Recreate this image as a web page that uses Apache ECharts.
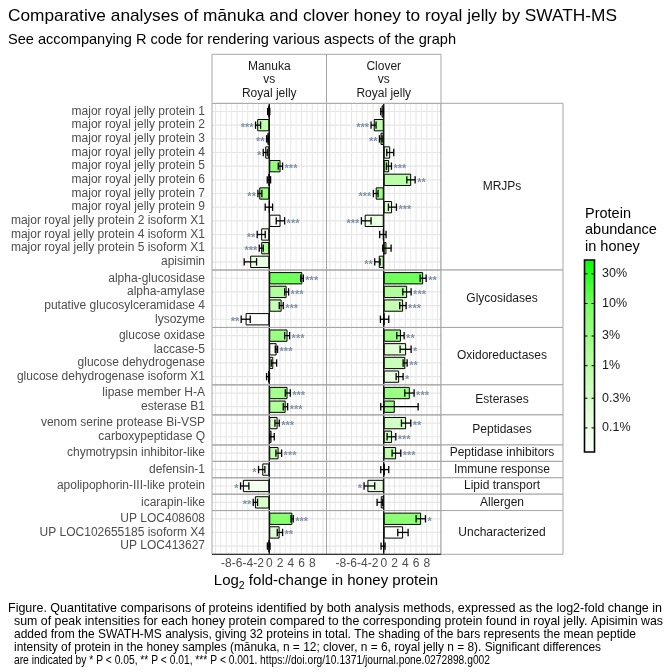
<!DOCTYPE html>
<html>
<head>
<meta charset="utf-8">
<script src="https://cdn.jsdelivr.net/npm/echarts@6/dist/echarts.min.js"></script>
<style>
html, body { margin: 0; padding: 0; background: #fff; }
#chart { width: 672px; height: 672px; }
</style>
</head>
<body>
<div id="chart"></div>
<script>
// ---- data ----
const proteins = [
    "major royal jelly protein 1", "major royal jelly protein 2", "major royal jelly protein 3",
    "major royal jelly protein 4", "major royal jelly protein 5", "major royal jelly protein 6",
    "major royal jelly protein 7", "major royal jelly protein 9",
    "major royal jelly protein 2 isoform X1", "major royal jelly protein 4 isoform X1",
    "major royal jelly protein 5 isoform X1", "apisimin",
    "alpha-glucosidase", "alpha-amylase", "putative glucosylceramidase 4", "lysozyme",
    "glucose oxidase", "laccase-5", "glucose dehydrogenase", "glucose dehydrogenase isoform X1",
    "lipase member H-A", "esterase B1",
    "venom serine protease Bi-VSP", "carboxypeptidase Q",
    "chymotrypsin inhibitor-like",
    "defensin-1",
    "apolipophorin-III-like protein",
    "icarapin-like",
    "UP LOC408608", "UP LOC102655185 isoform X4", "UP LOC413627",
];
const groupNames = ["MRJPs", "Glycosidases", "Oxidoreductases", "Esterases", "Peptidases",
    "Peptidase inhibitors", "Immune response", "Lipid transport", "Allergen", "Uncharacterized"];
const groupSizes = [12, 4, 4, 2, 2, 1, 1, 1, 1, 3];

const manukaFC = [-0.1, -2.24, -0.35, -0.75, 2.1, -0.1, -1.86, 0.05, 2.1, -1.5, -1.5, -3.55,
    6.15, 3.23, 2.3, -4.4, 3.4, 1.37, 0.75, -0.2, 3.4, 3.05, 1.55, 0.43, 1.74, -1.3, -4.9, -2.67,
    4.3, 1.93, -0.1];
const manukaLow = [-0.3, -2.55, -0.5, -1.12, 1.68, -0.37, -2.11, -0.75, 1.3, -2.24, -1.86, -4.66,
    5.84, 2.86, 1.86, -5.22, 2.86, 1.12, 0.37, -0.5, 2.98, 2.61, 1.06, 0.12, 1.24, -1.99, -5.34, -2.98,
    4.04, 1.49, -0.35];
const manukaHigh = [0.1, -1.61, -0.2, -0.37, 2.48, 0.25, -1.37, 0.62, 2.86, -0.75, -1.12, -2.36,
    6.34, 3.6, 2.61, -3.54, 3.79, 1.55, 1.37, 0.06, 3.91, 3.42, 1.86, 0.93, 2.3, -0.81, -3.79, -2.17,
    4.47, 2.48, 0.15];
const manukaStars = ["", "***", "**", "*", "***", "", "**", "", "***", "**", "***", "",
    "***", "***", "***", "**", "***", "***", "", "", "***", "***", "***", "", "***", "*", "*", "**",
    "***", "**", ""];
const manukaAbundance = [8, 0.8, 3, 0.07, 4, 1, 3, 0.3, 0.045, 0.06, 1.4, 0.12,
    10, 1.5, 0.56, 0.045, 2.9, 0.07, 0.5, 0.3, 2.2, 1.5, 0.27, 0.2, 0.7, 0.07, 0.07, 0.27,
    6, 0.2, 0.3];

const cloverFC = [-0.4, -1.86, -0.6, 1.2, 1.0, 5.1, -1.5, 1.55, -3.55, -0.15, 0.5, -0.93,
    7.33, 4.35, 3.6, 0.1, 3.2, 4.16, 4.0, 2.86, 4.85, 2.05, 4.16, 1.55, 2.3, 0.15, -3.04, -0.56,
    6.95, 3.6, -0.05];
const cloverLow = [-0.56, -2.36, -0.8, 0.56, 0.5, 4.29, -1.93, 0.87, -4.16, -0.75, -0.19, -1.68,
    6.77, 3.54, 2.98, -0.62, 2.42, 3.04, 3.6, 2.3, 3.91, -0.56, 3.29, 0.62, 1.55, -0.56, -3.66, -1.24,
    6.02, 2.61, -0.5];
const cloverHigh = [-0.06, -1.43, -0.3, 1.86, 1.43, 5.84, -1.06, 2.36, -2.36, 0.43, 1.37, -0.68,
    7.89, 5.09, 4.16, 0.93, 3.79, 5.09, 4.35, 3.6, 5.65, 6.4, 5.03, 2.24, 3.17, 0.93, -1.68, -0.25,
    7.76, 4.53, 0.25];
const cloverStars = ["", "***", "**", "", "***", "**", "***", "***", "***", "", "", "**",
    "**", "***", "***", "", "**", "*", "**", "*", "***", "", "**", "***", "***", "", "*", "",
    "*", "", ""];
const cloverAbundance = [10, 0.8, 5, 0.12, 3, 1, 3, 0.27, 0.12, 0.3, 1, 0.56,
    10, 1.5, 0.6, 0.3, 2.9, 0.2, 0.5, 0.12, 2.9, 2.9, 0.35, 0.5, 0.8, 0.3, 0.12, 0.3,
    5, 0.045, 0.3];

const comparisonNames = ["Manuka\nvs\nRoyal jelly", "Clover\nvs\nRoyal jelly"];
const xTickLabels = [-8, -6, -4, -2, 0, 2, 4, 6, 8];
const xGridTicks = [-10, -9, -8, -7, -6, -5, -4, -3, -2, -1, 0, 1, 2, 3, 4, 5, 6, 7, 8, 9, 10];
const legendTicks = [30, 10, 3, 1, 0.3, 0.1];
const legendTickLabels = ["30%", "10%", "3%", "1%", "0.3%", "0.1%"];
const abundanceRange = [0.041, 50];
const greenStops = ["#ffffff", "#dbffcd", "#b1ff9b", "#7dff64", "#00ff00"];

// ---- layout ----
const FONT = "'Liberation Sans', Arial, sans-serif";
const U = 13.667;               // height of one protein row
const PLOT_TOP = 103.3;
const PANEL_LEFT = [212, 326.5];
const PANEL_W = 114.5;
const STRIP_RIGHT = 563;
const X_MIN = -10.65, X_MAX = 10.65;
const STAR_COLOR = "#8090a6";
const LOG_MIN = Math.log10(abundanceRange[0]);
const LOG_MAX = Math.log10(abundanceRange[1]);

const comparisons = [
    {fc: manukaFC, low: manukaLow, high: manukaHigh, stars: manukaStars, abund: manukaAbundance},
    {fc: cloverFC, low: cloverLow, high: cloverHigh, stars: cloverStars, abund: cloverAbundance},
];

const measureCtx = document.createElement("canvas").getContext("2d");
function textWidth(text, font) {
    measureCtx.font = font;
    return measureCtx.measureText(text).width;
}

function gridLineRenderer(params, api) {
    const cs = params.coordSys;
    const y = api.coord([0, api.value(0)])[1];
    const children = [{
        type: "line",
        shape: {x1: cs.x, y1: y, x2: cs.x + cs.width, y2: y},
        style: {stroke: "#e6e6e6", lineWidth: 1.2},
    }];
    if (params.dataIndex === 0) {
        const y1 = cs.y - 0.1 * U, y2 = cs.y + cs.height + 0.1 * U;
        for (const t of xGridTicks) {
            const x = api.coord([t, 0])[0];
            children.push({
                type: "line",
                shape: {x1: x, y1: y1, x2: x, y2: y2},
                style: {stroke: t === 0 ? "#000" : "#e6e6e6", lineWidth: t === 0 ? 1.3 : (t % 2 === 0 ? 1.1 : 0.8)},
                z2: t === 0 ? 5 : 0,
            });
        }
    }
    return {type: "group", children: children};
}

function makeErrorRenderer(cmp, rowStart) {
    return function (params, api) {
        const r = rowStart + params.dataIndex;
        const cat = api.value(2);
        const y = api.coord([0, cat])[1];
        const xl = api.coord([api.value(0), cat])[0];
        const xh = api.coord([api.value(1), cat])[0];
        const cap = api.size([0, 1])[1] * 0.27;
        const st = {stroke: "#000", lineWidth: 1.3};
        const children = [
            {type: "line", shape: {x1: xl, y1: y, x2: xh, y2: y}, style: st},
            {type: "line", shape: {x1: xl, y1: y - cap, x2: xl, y2: y + cap}, style: st},
            {type: "line", shape: {x1: xh, y1: y - cap, x2: xh, y2: y + cap}, style: st},
        ];
        const stars = cmp.stars[r];
        if (stars) {
            const pos = cmp.fc[r] >= 0;
            children.push({
                type: "text",
                style: {
                    text: stars, x: pos ? xh + 2 : xl - 2, y: y + 3,
                    align: pos ? "left" : "right", verticalAlign: "middle",
                    fill: STAR_COLOR, font: "bold 11px " + FONT,
                },
            });
        }
        return {type: "group", children: children};
    };
}

const grids = [], xAxes = [], yAxes = [], series = [], graphics = [];
const barSeries = [];
let rowStart = 0, unitStart = 0;
const lastGroup = groupSizes.length - 1;

groupSizes.forEach((n, g) => {
    const names = proteins.slice(rowStart, rowStart + n);
    const y0 = PLOT_TOP + unitStart * U;
    const h = (n + 0.2) * U;
    comparisons.forEach((cmp, c) => {
        const gi = grids.length;
        grids.push({left: PANEL_LEFT[c], top: y0 + 0.1 * U, width: PANEL_W, height: n * U});
        xAxes.push({
            gridIndex: gi, type: "value", min: X_MIN, max: X_MAX,
            axisLine: {show: false}, axisTick: {show: false}, splitLine: {show: false},
            axisLabel: g === lastGroup ? {
                show: true, customValues: xTickLabels, fontSize: 12, fontFamily: FONT,
                color: "#4d4d4d", margin: 5, hideOverlap: false,
                showMinLabel: true, showMaxLabel: true,
            } : {show: false},
        });
        yAxes.push({
            gridIndex: gi, type: "category", data: names, inverse: true,
            axisLine: {show: false}, axisTick: {show: false}, splitLine: {show: false},
            axisLabel: c === 0 ? {
                show: true, interval: 0, fontSize: 12, fontFamily: FONT, color: "#4d4d4d", margin: 7,
            } : {show: false},
        });
        series.push({
            type: "custom", xAxisIndex: gi, yAxisIndex: gi, z: 1, silent: true,
            data: names.map((nm, k) => [k]),
            encode: {y: 0},
            renderItem: gridLineRenderer,
        });
        barSeries.push(series.length);
        series.push({
            type: "bar", xAxisIndex: gi, yAxisIndex: gi, z: 2, silent: true,
            data: names.map((nm, k) => [cmp.fc[rowStart + k], k, Math.log10(cmp.abund[rowStart + k])]),
            encode: {x: 0, y: 1},
            barWidth: "90%",
            itemStyle: {borderColor: "#000", borderWidth: 1},
        });
        series.push({
            type: "custom", xAxisIndex: gi, yAxisIndex: gi, z: 3, silent: true,
            data: names.map((nm, k) => [cmp.low[rowStart + k], cmp.high[rowStart + k], k]),
            encode: {x: [0, 1], y: 2},
            renderItem: makeErrorRenderer(cmp, rowStart),
        });
        // panel border
        graphics.push({
            type: "rect", z: 50, silent: true,
            shape: {x: PANEL_LEFT[c], y: y0, width: PANEL_W, height: h},
            style: {fill: null, stroke: "#a6a6a6", lineWidth: 1},
        });
    });
    // group strip on the right
    graphics.push({
        type: "rect", z: 50, silent: true,
        shape: {x: PANEL_LEFT[1] + PANEL_W, y: y0, width: STRIP_RIGHT - PANEL_LEFT[1] - PANEL_W, height: h},
        style: {fill: "#fff", stroke: "#a6a6a6", lineWidth: 1},
    });
    graphics.push({
        type: "text", z: 51, silent: true,
        style: {
            text: groupNames[g], x: (PANEL_LEFT[1] + PANEL_W + STRIP_RIGHT) / 2, y: y0 + h / 2,
            align: "center", verticalAlign: "middle", font: "12px " + FONT, fill: "#1a1a1a",
        },
    });
    rowStart += n;
    unitStart += n + 0.2;
});

const plotBottom = PLOT_TOP + unitStart * U;

// comparison strips on top
comparisonNames.forEach((name, c) => {
    graphics.push({
        type: "rect", z: 50, silent: true,
        shape: {x: PANEL_LEFT[c], y: 54.3, width: PANEL_W, height: PLOT_TOP - 54.3},
        style: {fill: "#fff", stroke: "#a6a6a6", lineWidth: 1},
    });
    graphics.push({
        type: "text", z: 51, silent: true,
        style: {
            text: name, x: PANEL_LEFT[c] + PANEL_W / 2, y: (54.3 + PLOT_TOP) / 2 + 1,
            align: "center", verticalAlign: "middle", font: "12px " + FONT, fill: "#1a1a1a",
            lineHeight: 13.5,
        },
    });
});

// bottom axis line
graphics.push({
    type: "line", z: 52, silent: true,
    shape: {x1: PANEL_LEFT[0], y1: plotBottom, x2: PANEL_LEFT[1] + PANEL_W, y2: plotBottom},
    style: {stroke: "#333", lineWidth: 1.3},
});

// x axis title with subscript
(function () {
    const mainFont = "15px " + FONT, subFont = "10.5px " + FONT;
    const parts = ["Log", "2", " fold-change in honey protein"];
    const w0 = textWidth(parts[0], mainFont), w1 = textWidth(parts[1], subFont);
    const w2 = textWidth(parts[2], mainFont);
    const total = w0 + w1 + w2;
    let x = 326 - total / 2;
    const y = 581;
    graphics.push({type: "text", silent: true, style: {text: parts[0], x: x, y: y, verticalAlign: "middle", font: mainFont, fill: "#000"}});
    x += w0;
    graphics.push({type: "text", silent: true, style: {text: parts[1], x: x, y: y + 5, verticalAlign: "middle", font: subFont, fill: "#000"}});
    x += w1;
    graphics.push({type: "text", silent: true, style: {text: parts[2], x: x, y: y, verticalAlign: "middle", font: mainFont, fill: "#000"}});
})();

// fitted text lines (title, subtitle, caption)
function fitScale(text, x, right, font) {
    return Math.max(0.6, Math.min(1.3, (right - x) / textWidth(text, font)));
}
function scaledText(text, x, y, s, font, fill) {
    graphics.push({
        type: "text", silent: true, x: x, y: y, scaleX: s,
        style: {text: text, x: 0, y: 0, verticalAlign: "middle", font: font, fill: fill},
    });
}
const titleText = "Comparative analyses of m\u0101nuka and clover honey to royal jelly by SWATH-MS";
const subtitleText = "See accompanying R code for rendering various aspects of the graph";
scaledText(titleText, 8, 16, fitScale(titleText, 8, 617, "17px " + FONT), "17px " + FONT, "#000");
scaledText(subtitleText, 8, 40, fitScale(subtitleText, 8, 456, "14.5px " + FONT), "14.5px " + FONT, "#000");
const captionLines = [
    "Figure. Quantitative comparisons of proteins identified by both analysis methods, expressed as the log2-fold change in",
    "sum of peak intensities for each honey protein compared to the corresponding protein found in royal jelly. Apisimin was",
    "added from the SWATH-MS analysis, giving 32 proteins in total. The shading of the bars represents the mean peptide",
    "intensity of protein in the honey samples (m\u0101nuka, n = 12; clover, n = 6, royal jelly n = 8). Significant differences",
    "are indicated by * P < 0.05, ** P < 0.01, *** P < 0.001. https://doi.org/10.1371/journal.pone.0272898.g002",
];
const captionLeft = [8, 14, 14, 14, 14];
const captionRight = [662, 663, 636, 601, 490];
const captionFont = "13px " + FONT;
captionLines.forEach((line, i) => {
    const s = fitScale(line, captionLeft[i], captionRight[i], captionFont);
    scaledText(line, captionLeft[i], 608 + i * 13, s, captionFont, "#000");
});

// colour legend
(function () {
    const lx = 584.5, ly = 260, lw = 10, lh = 192;
    graphics.push({
        type: "text", silent: true,
        style: {text: "Protein\nabundance\nin honey", x: 585, y: 206, verticalAlign: "top",
            font: "14.5px " + FONT, fill: "#000", lineHeight: 16.3},
    });
    const stops = greenStops.map((col, i) => ({offset: 1 - i / (greenStops.length - 1), color: col}));
    graphics.push({
        type: "rect", silent: true,
        shape: {x: lx, y: ly, width: lw, height: lh},
        style: {fill: new echarts.graphic.LinearGradient(0, 0, 0, 1, stops.reverse()), stroke: "#000", lineWidth: 1.6},
    });
    legendTicks.forEach((v, i) => {
        const y = ly + (LOG_MAX - Math.log10(v)) / (LOG_MAX - LOG_MIN) * lh;
        graphics.push({type: "line", silent: true, shape: {x1: lx, y1: y, x2: lx + 3, y2: y}, style: {stroke: "#000", lineWidth: 1}});
        graphics.push({type: "line", silent: true, shape: {x1: lx + lw - 3, y1: y, x2: lx + lw, y2: y}, style: {stroke: "#000", lineWidth: 1}});
        graphics.push({
            type: "text", silent: true,
            style: {text: legendTickLabels[i], x: 602, y: y, verticalAlign: "middle", font: "12.5px " + FONT, fill: "#1a1a1a"},
        });
    });
})();

const chart = echarts.init(document.getElementById("chart"), null, {renderer: "canvas"});
chart.setOption({
    animation: false,
    backgroundColor: "#fff",
    grid: grids,
    xAxis: xAxes,
    yAxis: yAxes,
    visualMap: {
        type: "continuous", show: false, seriesIndex: barSeries, dimension: 2,
        min: LOG_MIN, max: LOG_MAX, inRange: {color: greenStops},
    },
    series: series,
    graphic: {elements: graphics},
});
</script>
</body>
</html>
